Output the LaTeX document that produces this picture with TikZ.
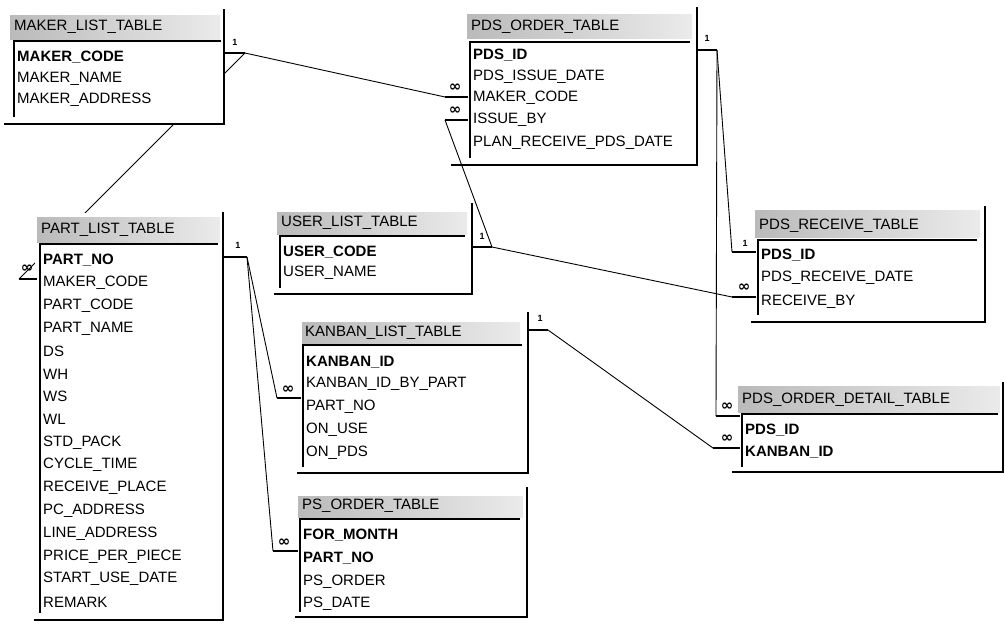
\documentclass[tikz,border=0pt]{standalone}
\usepackage{fontspec}
\setmainfont{Liberation Sans}
\newfontfamily\symfnt{DejaVu Sans}
\newcommand\fieldfont{\fontsize{15}{15}\selectfont}
\tikzset{
  hdr/.style={left color=black!27, right color=black!8, draw=none},
  frame/.style={line width=2pt, black, line cap=rect},
  fbox/.style={line width=1.4pt, black},
  fld/.style={anchor=west, inner sep=0pt, font=\fieldfont},
  key/.style={fld, font=\fieldfont\bfseries},
  ttl/.style={anchor=west, inner sep=0pt, font=\fieldfont},
  rel/.style={line width=0.9pt, black},
  stub/.style={line width=2.2pt, black},
  onemk/.style={inner sep=0pt, font=\bfseries\fontsize{9}{9}\selectfont},
  manymk/.style={inner sep=0pt, font=\symfnt\bfseries\fontsize{15}{15}\selectfont},
}
\begin{document}
\begin{tikzpicture}[x=1pt,y=-1pt]
\useasboundingbox (0,0) rectangle (1005,624);
\fill[white] (0,0) rectangle (1005,624);
% ---------- connector end points ----------
\coordinate (mkR) at (245,53);
\coordinate (poL1) at (445,97);
\coordinate (poL2) at (445,120);
\coordinate (paL) at (19,279);
\coordinate (usR) at (492,247);
\coordinate (rcL2) at (732,297);
\coordinate (poR) at (717,50);
\coordinate (rcL1) at (732,252);
\coordinate (dtL1) at (716,416);
\coordinate (kbR) at (548,330);
\coordinate (dtL2) at (713,448);
\coordinate (paR) at (247,257);
\coordinate (kbL) at (277,398);
\coordinate (psL) at (273,551);
% ---------- connectors (behind the tables) ----------
\draw[rel] (mkR) -- (poL1);
\draw[rel] (mkR) -- (paL);
\draw[rel] (poL2) -- (usR);
\draw[rel] (usR) -- (rcL2);
\draw[rel] (poR) -- (rcL1);
\draw[rel] (poR) -- (dtL1);
\draw[rel] (kbR) -- (dtL2);
\draw[rel] (paR) -- (kbL);
\draw[rel] (paR) -- (psL);
% ---------- MAKER_LIST_TABLE ----------
\fill[white] (5,10) rectangle (224,124);
\shade[hdr] (10,15) rectangle (220,39);
\node[ttl] (mk-t) at (14,27) {MAKER\_LIST\_TABLE};
\draw[frame] (224,10) -- (224,124) -- (5,124);
\draw[fbox] (221,41) -- (14,41) -- (14,117);
\node[key] (mk-1) at (17,57) {MAKER\_CODE};
\node[fld] (mk-2) at (17,79) {MAKER\_NAME};
\node[fld] (mk-3) at (17,100) {MAKER\_ADDRESS};
% ---------- PDS_ORDER_TABLE ----------
\fill[white] (467,8) rectangle (697,165);
\shade[hdr] (467,14) rectangle (692,38);
\node[ttl] (po-t) at (471,27) {PDS\_ORDER\_TABLE};
\draw[frame] (697,8) -- (697,165) -- (452,165);
\draw[fbox] (690,42) -- (470,42) -- (470,158);
\node[key] (po-1) at (473,55) {PDS\_ID};
\node[fld] (po-2) at (473,77) {PDS\_ISSUE\_DATE};
\node[fld] (po-3) at (473,98) {MAKER\_CODE};
\node[fld] (po-4) at (473,120) {ISSUE\_BY};
\node[fld] (po-5) at (473,143) {PLAN\_RECEIVE\_PDS\_DATE};
% ---------- PART_LIST_TABLE ----------
\fill[white] (35,213) rectangle (223,620);
\shade[hdr] (37,217) rectangle (220,242);
\node[ttl] (pa-t) at (41,230) {PART\_LIST\_TABLE};
\draw[frame] (223,213) -- (223,620) -- (35,620);
\draw[fbox] (218,244) -- (40,244) -- (40,613);
\node[key] (pa-1) at (43,260) {PART\_NO};
\node[fld] (pa-2) at (43,282.8) {MAKER\_CODE};
\node[fld] (pa-3) at (43,305.6) {PART\_CODE};
\node[fld] (pa-4) at (43,328.4) {PART\_NAME};
\node[fld] (pa-5) at (43,351.2) {DS};
\node[fld] (pa-6) at (43,374) {WH};
\node[fld] (pa-7) at (43,396.8) {WS};
\node[fld] (pa-8) at (43,419.6) {WL};
\node[fld] (pa-9) at (43,442.4) {STD\_PACK};
\node[fld] (pa-10) at (43,465.2) {CYCLE\_TIME};
\node[fld] (pa-11) at (43,488) {RECEIVE\_PLACE};
\node[fld] (pa-12) at (43,510.8) {PC\_ADDRESS};
\node[fld] (pa-13) at (43,533.6) {LINE\_ADDRESS};
\node[fld] (pa-14) at (43,556.4) {PRICE\_PER\_PIECE};
\node[fld] (pa-15) at (43,579.2) {START\_USE\_DATE};
\node[fld] (pa-16) at (43,602) {REMARK};
% ---------- USER_LIST_TABLE ----------
\fill[white] (275,204) rectangle (472,294);
\shade[hdr] (277,212) rectangle (467,234);
\node[ttl] (us-t) at (281,223) {USER\_LIST\_TABLE};
\draw[frame] (472,204) -- (472,294) -- (275,294);
\draw[fbox] (465,236) -- (280,236) -- (280,288);
\node[key] (us-1) at (283,252) {USER\_CODE};
\node[fld] (us-2) at (283,273) {USER\_NAME};
% ---------- KANBAN_LIST_TABLE ----------
\fill[white] (298,313) rectangle (528,473);
\shade[hdr] (302,322) rectangle (520,344);
\node[ttl] (kb-t) at (305,333) {KANBAN\_LIST\_TABLE};
\draw[frame] (528,313) -- (528,473) -- (298,473);
\draw[fbox] (522,345) -- (303,345) -- (303,467);
\node[key] (kb-1) at (306,362) {KANBAN\_ID};
\node[fld] (kb-2) at (306,384) {KANBAN\_ID\_BY\_PART};
\node[fld] (kb-3) at (306,407) {PART\_NO};
\node[fld] (kb-4) at (306,430) {ON\_USE};
\node[fld] (kb-5) at (306,453) {ON\_PDS};
% ---------- PS_ORDER_TABLE ----------
\fill[white] (296,488) rectangle (527,617);
\shade[hdr] (298,496) rectangle (523,517);
\node[ttl] (ps-t) at (302,506) {PS\_ORDER\_TABLE};
\draw[frame] (527,488) -- (527,617) -- (296,617);
\draw[fbox] (520,519) -- (300,519) -- (300,612);
\node[key] (ps-1) at (303,535) {FOR\_MONTH};
\node[key] (ps-2) at (303,558) {PART\_NO};
\node[fld] (ps-3) at (303,582) {PS\_ORDER};
\node[fld] (ps-4) at (303,604) {PS\_DATE};
% ---------- PDS_RECEIVE_TABLE ----------
\fill[white] (752,207) rectangle (985,322);
\shade[hdr] (755,210) rectangle (980,237);
\node[ttl] (rc-t) at (759,226) {PDS\_RECEIVE\_TABLE};
\draw[frame] (985,207) -- (985,322) -- (752,322);
\draw[fbox] (977,240) -- (758,240) -- (758,315);
\node[key] (rc-1) at (761,255) {PDS\_ID};
\node[fld] (rc-2) at (761,278) {PDS\_RECEIVE\_DATE};
\node[fld] (rc-3) at (761,302) {RECEIVE\_BY};
% ---------- PDS_ORDER_DETAIL_TABLE ----------
\fill[white] (733,383) rectangle (1003,472);
\shade[hdr] (738,386) rectangle (1000,412);
\node[ttl] (dt-t) at (742,400) {PDS\_ORDER\_DETAIL\_TABLE};
\draw[frame] (1003,383) -- (1003,472) -- (733,472);
\draw[fbox] (998,414) -- (742,414) -- (742,467);
\node[key] (dt-1) at (745,430) {PDS\_ID};
\node[key] (dt-2) at (745,452) {KANBAN\_ID};
% ---------- stubs and cardinality marks ----------
\draw[stub] (224,53) -- (mkR);
\node[onemk] at (235,42) {1};
\draw[stub] (poL1) -- (468,97);
\node[manymk] at (455,88) {∞};
\draw[stub] (poL2) -- (468,120);
\node[manymk] at (455,111) {∞};
\draw[stub] (paL) -- (37,279);
\node[manymk] at (27,269) {∞};
\draw[stub] (472,247) -- (usR);
\node[onemk] at (482,236) {1};
\draw[stub] (rcL2) -- (756,297);
\node[manymk] at (744,288) {∞};
\draw[stub] (697,50) -- (poR);
\node[onemk] at (707,38) {1};
\draw[stub] (rcL1) -- (756,252);
\node[onemk] at (745,243) {1};
\draw[stub] (dtL1) -- (740,416);
\node[manymk] at (727,407) {∞};
\draw[stub] (528,330) -- (kbR);
\node[onemk] at (540,318) {1};
\draw[stub] (dtL2) -- (740,448);
\node[manymk] at (727,439) {∞};
\draw[stub] (223,257) -- (paR);
\node[onemk] at (238,245) {1};
\draw[stub] (kbL) -- (301,398);
\node[manymk] at (288,390) {∞};
\draw[stub] (psL) -- (298,551);
\node[manymk] at (284,543) {∞};
\end{tikzpicture}
\end{document}
